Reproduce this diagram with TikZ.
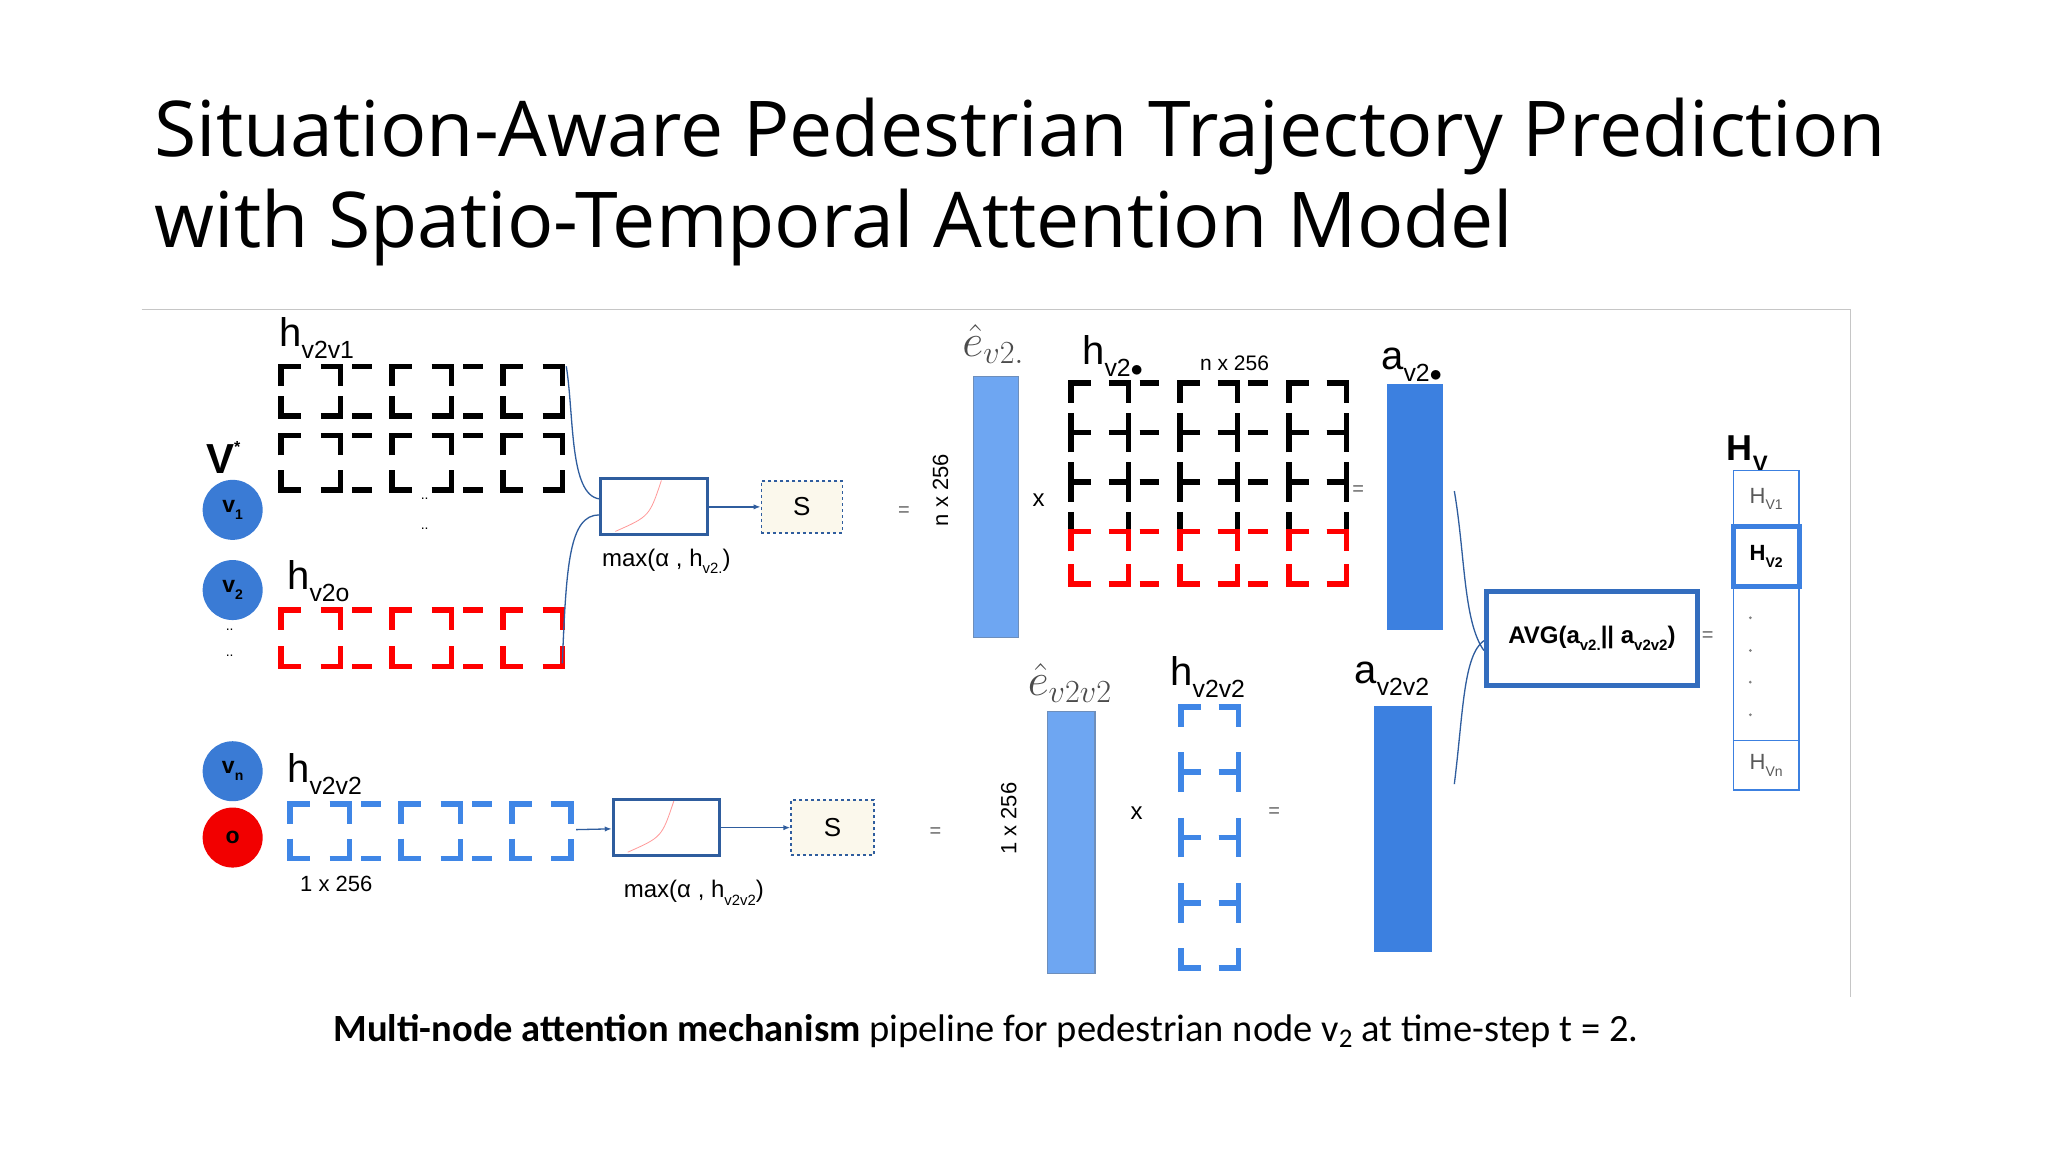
\documentclass[tikz,border=0pt]{standalone}
\usepackage{fix-cm}
\usepackage{fontspec}
\setmainfont{Liberation Sans}
\newfontfamily\titlefont{Open Sans}
\newfontfamily\capfont{Carlito}
\usetikzlibrary{arrows.meta}
\definecolor{lblue}{HTML}{6EA6F2}
\definecolor{dblue}{HTML}{3C80E0}
\definecolor{nblue}{HTML}{3A7BD5}
\definecolor{mblue}{HTML}{2F5D9E}
\definecolor{gridblue}{HTML}{3F86E6}
\definecolor{sfill}{HTML}{FBF8EC}
\newcommand{\hlab}[3]{\fontsize{#3}{#3}\selectfont #1\raisebox{-0.3em}{\fontsize{0.62\dimexpr#3pt\relax}{1}\selectfont #2}}
% bracket cell: x y w h colour
\newcommand{\brk}[5]{%
  \draw[brkline,#5] (#1,#2+20) -- (#1,#2) -- (#1+20,#2);
  \draw[brkline,#5] (#1+#3-20,#2) -- (#1+#3,#2) -- (#1+#3,#2+20);
  \draw[brkline,#5] (#1,#2+#4-20) -- (#1,#2+#4) -- (#1+20,#2+#4);
  \draw[brkline,#5] (#1+#3-20,#2+#4) -- (#1+#3,#2+#4) -- (#1+#3,#2+#4-20);}
\newcommand{\gapd}[4]{%
  \draw[brkline,#4] (#1,#2) -- (#1+20,#2);
  \draw[brkline,#4] (#1,#2+#3) -- (#1+20,#2+#3);}
\tikzset{
  brkline/.style={line width=5.5pt,line cap=butt,line join=miter},
  bar/.style={draw=mblue!70,line width=1.2pt},
  nodec/.style={circle,minimum size=60pt,inner sep=0pt,font=\bfseries\fontsize{23}{23}\selectfont},
  conn/.style={draw=mblue,line width=1.3pt},
  sbox/.style={draw=mblue,dashed,line width=1.5pt,fill=sfill,font=\fontsize{26}{26}\selectfont},
  mbox/.style={draw=mblue,line width=3pt,fill=white},
  lbl/.style={inner sep=0pt,anchor=base west},
  eq/.style={font=\fontsize{20}{20}\selectfont,text=gray!80!black}
}
\begin{document}
\begin{tikzpicture}[x=0.99pt,y=-0.99pt]
\useasboundingbox (0pt,0pt) rectangle (2048pt,-1152pt);
\fill[white] (0pt,0pt) rectangle (2048pt,-1152pt);
% title
\node[lbl] (t1) at (156,158) {\titlefont\fontsize{77}{77}\selectfont Situation-Aware Pedestrian Trajectory Prediction};
\node[lbl] (t2) at (156,250) {\titlefont\fontsize{77}{77}\selectfont with Spatio-Temporal Attention Model};
% frame lines
\draw[gray!45,line width=1pt] (143,313) -- (1869,313) -- (1869,1007);
% caption
\node[anchor=base] (cap) at (996,1052) {\capfont\fontsize{38.5}{38.5}\selectfont\textbf{Multi-node attention mechanism} pipeline for pedestrian node v\textsubscript{2} at time-step t = 2.};
% V* and nodes
\node[lbl] (vs) at (208,478) {\fontsize{42}{42}\selectfont\bfseries V\raisebox{0.5em}{\fontsize{16}{16}\selectfont *}};
\node[nodec,fill=nblue] (v1) at (235,515) {v\raisebox{-0.3em}{\fontsize{14}{14}\selectfont 1}};
\node[nodec,fill=nblue] (v2) at (235,596) {v\raisebox{-0.3em}{\fontsize{14}{14}\selectfont 2}};
\node[nodec,fill=nblue] (vn) at (235,779) {v\raisebox{-0.3em}{\fontsize{14}{14}\selectfont n}};
\node[nodec,fill=red!95!black] (o) at (235,846) {o};
\node (d1) at (232,636) {\fontsize{14}{14}\selectfont ..};
\node (d2) at (232,662) {\fontsize{14}{14}\selectfont ..};
\node (d3) at (429,504) {\fontsize{14}{14}\selectfont ..};
\node (d4) at (429,534) {\fontsize{14}{14}\selectfont ..};
% labels
\node[lbl] (lh1) at (282,350) {\hlab{h}{v2v1}{40}};
\node[lbl] (lh2) at (290,595) {\hlab{h}{v2o}{40}};
\node[lbl] (lh3) at (290,790) {\hlab{h}{v2v2}{40}};
\node[lbl] (l256) at (303,900) {\fontsize{22}{22}\selectfont 1 x 256};
% matrices left
\foreach \yy/\hh in {370/50,440/55} {
  \foreach \xx in {284,396,508} {\brk{\xx}{\yy}{60}{\hh}{black}}
  \foreach \xx in {356,468} {\gapd{\xx}{\yy}{\hh}{black}}}
\foreach \xx in {284,396,508} {\brk{\xx}{616}{60}{57}{red}}
\foreach \xx in {356,468} {\gapd{\xx}{616}{57}{red}}
\foreach \xx in {293,405,517} {\brk{\xx}{812}{60}{55}{gridblue}}
\foreach \xx in {365,477} {\gapd{\xx}{812}{55}{gridblue}}
\coordinate (m1) at (572,370);
\coordinate (m2) at (568,670);
\coordinate (m3) at (582,838);
% max boxes
\node[mbox,minimum width=107pt,minimum height=56pt] (mx1) at (661,512) {};
\draw[red!40,line width=0.8pt] ([xshift=16pt,yshift=5pt]mx1.south west) .. controls ([xshift=50pt,yshift=20pt]mx1.south west) .. ([xshift=62pt,yshift=-3pt]mx1.north west);
\node[sbox,minimum width=81pt,minimum height=52pt] (s1) at (810,512) {S};
\node[lbl] (ml1) at (608,572) {\fontsize{24}{24}\selectfont max(α , \hlab{h}{v2.}{24})};
\node[mbox,minimum width=106pt,minimum height=56pt] (mx2) at (673,836) {};
\draw[red!40,line width=0.8pt] ([xshift=16pt,yshift=5pt]mx2.south west) .. controls ([xshift=50pt,yshift=20pt]mx2.south west) .. ([xshift=62pt,yshift=-3pt]mx2.north west);
\node[sbox,minimum width=83pt,minimum height=55pt] (s2) at (841,836) {S};
\node[lbl] (ml2) at (630,907) {\fontsize{24}{24}\selectfont max(α , \hlab{h}{v2v2}{24})};
\draw[conn] (m1) .. controls (580,420) and (575,500) .. ([yshift=8pt]mx1.west);
\draw[conn] (m2) .. controls (572,570) and (575,520) .. ([yshift=-8pt]mx1.west);
\draw[conn,-{Latex[length=7pt]}] (mx1) -- (s1);
\draw[conn,-{Latex[length=7pt]}] (m3) -- (mx2);
\draw[conn,-{Latex[length=7pt]}] (mx2) -- (s2);
\node[eq] (eqa) at (913,517) {=};
\node[eq] (eqb) at (945,841) {=};
\node[rotate=90] (r1) at (950,495) {\fontsize{22}{22}\selectfont n x 256};
\node[rotate=90] (r2) at (1019,827) {\fontsize{22}{22}\selectfont 1 x 256};
% bars
\node[lbl,text=gray!60!black] (le1) at (972,360) {\fontsize{46}{46}\selectfont$\hat{e}_{v2.}$};
\draw[bar,fill=lblue] (983,380) rectangle (1029,644);
\node (x1) at (1049,505) {\fontsize{24}{24}\selectfont x};
\node[lbl] (lh4) at (1093,368) {\hlab{h}{v2$\bullet$}{40}};
\node[lbl] (l256b) at (1212,374) {\fontsize{21}{21}\selectfont n x 256};
\foreach \yy in {387,437,487} {
  \foreach \xx in {1082,1192,1302} {\brk{\xx}{\yy}{58}{50}{black}}
  \foreach \xx in {1151,1261} {\gapd{\xx}{\yy}{50}{black}}}
\foreach \xx in {1082,1192,1302} {\brk{\xx}{537}{58}{53}{red}}
\foreach \xx in {1151,1261} {\gapd{\xx}{537}{53}{red}}
\node[eq] (eqc) at (1372,496) {=};
\node[lbl] (la1) at (1395,373) {\hlab{a}{v2$\bullet$}{40}};
\draw[draw=dblue,fill=dblue] (1401,388) rectangle (1457,636);
\node[lbl,text=gray!60!black] (le2) at (1038,703) {\fontsize{46}{46}\selectfont$\hat{e}_{v2v2}$};
\draw[bar,fill=lblue] (1058,719) rectangle (1106,983);
\node (x2) at (1148,821) {\fontsize{24}{24}\selectfont x};
\node[lbl] (lh5) at (1182,692) {\hlab{h}{v2v2}{40}};
\foreach \yy in {714,780,846,912} {\brk{1193}{\yy}{58}{66}{gridblue}}
\node[eq] (eqd) at (1287,821) {=};
\node[lbl] (la2) at (1368,690) {\hlab{a}{v2v2}{40}};
\draw[draw=dblue,fill=dblue] (1388,713) rectangle (1446,961);
% AVG
\node[draw=dblue!85!black,line width=5pt,minimum width=211pt,minimum height=94pt] (avg) at (1608,645) {\bfseries\fontsize{24}{24}\selectfont AVG(a\raisebox{-0.3em}{\fontsize{15}{15}\selectfont v2.}|| a\raisebox{-0.3em}{\fontsize{15}{15}\selectfont v2v2})};
\node[eq] (eqe) at (1725,643) {=};
\coordinate (a1) at (1469,496);
\coordinate (a2) at (1469,792);
\draw[conn] (a1) .. controls (1480,560) and (1478,628) .. ([yshift=-12pt]avg.west);
\draw[conn] (a2) .. controls (1478,720) and (1478,662) .. ([yshift=-2pt]avg.west);
% H_V column
\node[lbl] (hv) at (1744,465) {\bfseries\hlab{H}{V}{36}};
\draw[draw=dblue,line width=1.5pt] (1751,475) rectangle (1817,798);
\draw[draw=dblue,line width=1.5pt] (1751,748) -- (1817,748);
\node[draw=dblue,line width=5pt,minimum width=66pt,minimum height=60pt] (hv2) at (1784,562) {\bfseries\fontsize{22}{22}\selectfont H\raisebox{-0.3em}{\fontsize{14}{14}\selectfont V2}};
\node (hv1) at (1784,504) {\fontsize{22}{22}\selectfont\color{gray!70!black}H\raisebox{-0.3em}{\fontsize{14}{14}\selectfont V1}};
\node (hvn) at (1784,773) {\fontsize{22}{22}\selectfont\color{gray!70!black}H\raisebox{-0.3em}{\fontsize{14}{14}\selectfont Vn}};
\foreach \y in {624,657,689,722} \fill[gray] (1768,\y) circle (1.5pt);
\end{tikzpicture}
\end{document}
